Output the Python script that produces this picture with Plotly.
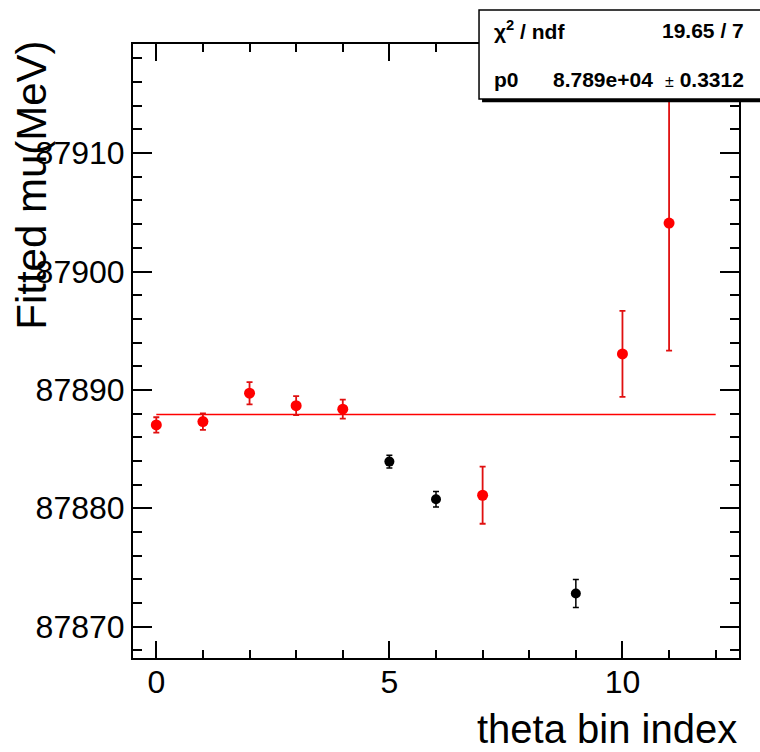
import numpy as np
import plotly.graph_objects as go

# Points included in the constant fit (red)
fit_bins = [0, 1, 2, 3, 4, 7, 10, 11]
fit_mu = [87887.04, 87887.32, 87889.72, 87888.67, 87888.37, 87881.10, 87893.04, 87904.09]
fit_err = [0.65, 0.69, 0.94, 0.80, 0.80, 2.41, 3.63, 10.77]

# Points excluded from the fit (black)
out_bins = [5, 6, 9]
out_mu = [87883.94, 87880.76, 87872.80]
out_err = [0.54, 0.66, 1.18]

fit_range = [0, 12]
chi2_text = "19.65 / 7"
p0_text = "8.789e+04"
p0_err_text = "0.3312"

# Weighted mean = constant (pol0) fit
w = 1.0 / np.asarray(fit_err) ** 2
p0 = float(np.sum(w * np.asarray(fit_mu)) / np.sum(w))

FONT = "Liberation Sans, Arial, Helvetica, sans-serif"

fig = go.Figure()

fig.add_trace(go.Scatter(
    x=fit_range, y=[p0, p0], mode="lines",
    line=dict(color="#ff0000", width=1.5), showlegend=False, hoverinfo="skip",
))

fig.add_trace(go.Scatter(
    x=out_bins, y=out_mu, mode="markers",
    marker=dict(color="black", size=10, symbol="circle"),
    error_y=dict(type="data", array=out_err, visible=True, color="black",
                 thickness=1.5, width=3),
    showlegend=False,
))

fig.add_trace(go.Scatter(
    x=fit_bins, y=fit_mu, mode="markers",
    marker=dict(color="#ff0000", size=11, symbol="circle"),
    error_y=dict(type="data", array=fit_err, visible=True, color="#e01010",
                 thickness=1.8, width=3),
    showlegend=False,
))

axis_common = dict(
    showgrid=False, zeroline=False,
    showline=True, linecolor="black", linewidth=2, mirror="allticks",
    ticks="inside", tickcolor="black", tickwidth=1.5,
    tickfont=dict(family=FONT, size=32, color="black"),
)

fig.update_xaxes(
    range=[-0.5, 12.5], tickmode="array", tickvals=[0, 5, 10],
    ticktext=["0", "5", "10"], ticklen=17,
    minor=dict(tickmode="linear", tick0=0, dtick=1, ticks="inside",
               ticklen=8, tickcolor="black", tickwidth=1.5),
    ticklabelstandoff=-5,
    **axis_common,
)
fig.update_yaxes(
    range=[87867.35, 87919.22], tickmode="linear", tick0=87870, dtick=10,
    tickformat="d", ticklen=19,
    minor=dict(tickmode="linear", tick0=87870, dtick=2, ticks="inside",
               ticklen=9, tickcolor="black", tickwidth=1.5),
    ticklabelstandoff=0,
    **axis_common,
)

# Axis titles, aligned to the axis ends
annotations = [
    dict(text="theta bin index", xref="paper", yref="paper", x=1.0, y=-0.1157,
         xanchor="right", yanchor="middle", showarrow=False,
         font=dict(family=FONT, size=40, color="black")),
    dict(text="Fitted mu(MeV)", xref="paper", yref="paper", x=-0.168, y=1.008,
         xanchor="center", yanchor="top", textangle=-90, showarrow=False,
         font=dict(family=FONT, size=42, color="black")),
]

# Fit statistics box
stat_font = dict(family=FONT, size=21, color="black")
annotations += [
    dict(text="<b>χ<sup>2</sup> / ndf</b>", xref="paper", yref="paper",
         x=0.592, y=1.0228, xanchor="left", yanchor="middle",
         showarrow=False, font=stat_font),
    dict(text="<b>" + chi2_text + "</b>", xref="paper", yref="paper",
         x=1.0116, y=1.0228, xanchor="right", yanchor="middle",
         showarrow=False, font=stat_font),
    dict(text="<b>p0</b>", xref="paper", yref="paper",
         x=0.592, y=0.9414, xanchor="left", yanchor="middle",
         showarrow=False, font=stat_font),
    dict(text="<b>" + p0_text + "</b>", xref="paper", yref="paper",
         x=0.8614, y=0.9414, xanchor="right", yanchor="middle",
         showarrow=False, font=stat_font),
    dict(text="<span style='font-size:16px'>±</span> <b>" + p0_err_text + "</b>",
         xref="paper", yref="paper",
         x=1.0116, y=0.9414, xanchor="right", yanchor="middle",
         showarrow=False, font=stat_font),
]

shapes = [
    # shadow
    dict(type="rect", xref="paper", yref="paper",
         x0=0.576, x1=1.06, y0=0.905, y1=1.05,
         fillcolor="black", line=dict(width=0), layer="above"),
    # box
    dict(type="rect", xref="paper", yref="paper",
         x0=0.571, x1=1.06, y0=0.9104, y1=1.0554,
         fillcolor="white", line=dict(color="black", width=1.5), layer="above"),
]

fig.update_layout(
    width=760, height=752,
    margin=dict(l=133, r=21, t=44, b=94),
    paper_bgcolor="white", plot_bgcolor="white",
    annotations=annotations, shapes=shapes,
    font=dict(family=FONT, color="black"),
)

fig.write_html("out.html")
